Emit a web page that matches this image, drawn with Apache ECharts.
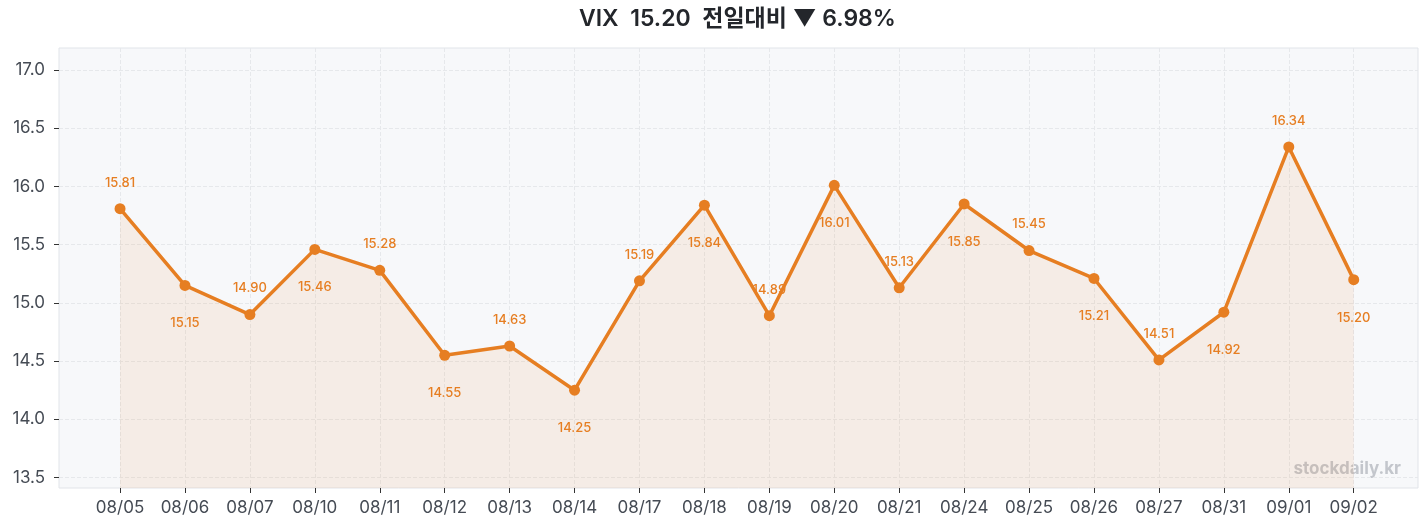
<!DOCTYPE html>
<html>
<head>
<meta charset="utf-8">
<script src="https://cdn.jsdelivr.net/npm/echarts@6/dist/echarts.min.js"></script>
<style>
  html, body { margin: 0; padding: 0; background: #fff; }
  #chart { width: 1427px; height: 529px; }
</style>
</head>
<body>
<div id="chart"></div>
<script>
// dates shown on the x axis
var dates = ["08/05", "08/06", "08/07", "08/10", "08/11", "08/12", "08/13", "08/14", "08/17", "08/18",
  "08/19", "08/20", "08/21", "08/24", "08/25", "08/26", "08/27", "08/31", "09/01", "09/02"];
// VIX close values
var vix = [15.81, 15.15, 14.90, 15.46, 15.28, 14.55, 14.63, 14.25, 15.19, 15.84,
  14.89, 16.01, 15.13, 15.85, 15.45, 15.21, 14.51, 14.92, 16.34, 15.20];
var yTicks = [13.5, 14.0, 14.5, 15.0, 15.5, 16.0, 16.5, 17.0];

var FONT = "Inter, 'Noto Sans CJK KR', sans-serif";
var ORANGE = "#E67E22";

var idx = dates.map(function(d, i) { return i; });

// labels alternate above / below the points
var points = vix.map(function(v, i) {
  var up = i % 2 === 0;
  return {
    value: [i, v],
    label: {
      position: up ? "top" : "bottom",
      distance: up ? 14 : 26
    }
  };
});

var chart = echarts.init(document.getElementById("chart"));
chart.setOption({
  backgroundColor: "#ffffff",
  animation: false,
  title: {
    text: "VIX  15.20  전일대비 ▼ 6.98%",
    left: 579, // centred over the plot area
    top: 8,
    padding: 0,
    textStyle: { fontFamily: FONT, fontSize: 23, fontWeight: 600, color: "#23262b" }
  },
  grid: {
    left: 59, right: 9, top: 48, bottom: 41,
    show: true,
    backgroundColor: "#f7f8fa",
    borderColor: "#e1e4e9",
    borderWidth: 1
  },
  xAxis: {
    type: "value",
    min: -0.94,
    max: 19.99,
    axisLine: { show: false, onZero: false },
    axisTick: { show: true, length: 5, customValues: idx, lineStyle: { color: "#333" } },
    axisLabel: {
      customValues: idx,
      fontFamily: FONT, fontSize: 17, color: "#454b54", margin: 11,
      formatter: function(v) { return dates[Math.round(v)] || ""; }
    },
    splitLine: { show: true, lineStyle: { type: "dashed", color: "#e6e8eb" } }
  },
  yAxis: {
    type: "value",
    min: 13.41,
    max: 17.19,
    axisLine: { show: false, onZero: false },
    axisTick: { show: true, length: 5, customValues: yTicks, lineStyle: { color: "#333" } },
    axisLabel: {
      customValues: yTicks,
      fontFamily: FONT, fontSize: 17, color: "#454b54", margin: 14,
      formatter: function(v) { return v.toFixed(1); }
    },
    splitLine: { show: true, lineStyle: { type: "dashed", color: "#e6e8eb" } }
  },
  graphic: [{
    type: "text",
    right: 26,
    top: 460,
    style: { text: "stockdaily.kr", fontFamily: FONT, fontSize: 17, fontWeight: "bold", fill: "#c3c6cc" }
  }],
  series: [{
    type: "line",
    data: points,
    symbol: "circle",
    symbolSize: 11,
    lineStyle: { color: ORANGE, width: 3.5 },
    itemStyle: { color: ORANGE },
    areaStyle: { color: "rgba(230,126,34,0.13)", origin: "start" },
    label: {
      show: true,
      fontFamily: FONT,
      fontSize: 13,
      fontWeight: 500,
      color: ORANGE,
      formatter: function(p) { return p.value[1].toFixed(2); }
    }
  }]
});
</script>
</body>
</html>
